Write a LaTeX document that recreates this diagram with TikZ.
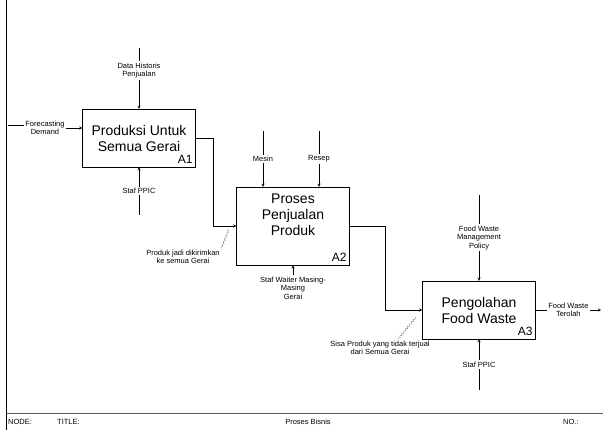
\documentclass[tikz,border=0pt]{standalone}
\usepackage{fontspec}
\setmainfont{Liberation Sans}
\usepackage{tikz}
\usetikzlibrary{arrows, decorations.pathmorphing}
\usetikzlibrary{calc,positioning}

\tikzset{
    proses/.style={draw, minimum width=113pt, minimum height=58pt, align=center,
        font=\fontsize{14}{16}\selectfont},
    lbl/.style={align=center, font=\fontsize{7.5}{8.5}\selectfont, inner sep=1.5pt, fill=white},
    kode/.style={anchor=south east, font=\fontsize{12}{13}\selectfont, inner sep=3pt},
    kaki/.style={font=\fontsize{7.5}{8}\selectfont, inner sep=0pt},
    ulir/.style={decorate, decoration={snake, amplitude=0.8pt, segment length=3pt}, gray},
}

\begin{document}
\begin{tikzpicture}[x=1pt,y=-1pt,>=stealth]
\useasboundingbox (0,0) rectangle (603,430);

    % Kerangka
    \draw (6,0) -- (6,430);
    \draw[thick, gray!70!black] (6,413) -- (603,413);
    \node[kaki, anchor=west] (node) at (8,422) {NODE:};
    \node[kaki, anchor=west] (title) at (57,422) {TITLE:};
    \node[kaki] (judul) at (308,422) {Proses Bisnis};
    \node[kaki, anchor=west] (nomor) at (563,422) {NO.:};

    % Proses
    \node[proses] (a1) at (139,138) {Produksi Untuk\\Semua Gerai};
    \node[kode] at (a1.south east) {A1};
    \node[proses, minimum height=78pt] (a2) at (293,226) {Proses\\Penjualan\\Produk\\[6pt]};
    \node[kode] at (a2.south east) {A2};
    \node[proses] (a3) at (479,310) {Pengolahan\\Food Waste};
    \node[kode] at (a3.south east) {A3};

    % A1
    \coordinate (c1) at (a1.north |- 0,48);
    \draw[->] (c1) -- node[lbl, pos=0.37] (datahist) {Data Historis\\Penjualan} (a1.north);
    \node[lbl, fill=none] (forecast) at (45,128) {Forecasting\\Demand};
    \coordinate (c2) at (8,125);
    \draw (c2) -- (forecast.west |- c2);
    \draw[->] (forecast.east) -- (forecast.east -| a1.west);
    \coordinate (c3) at (a1.south |- 0,215);
    \draw[->] (c3) -- node[lbl, pos=0.5] (stafa) {Staf PPIC} (a1.south);

    % A1 ke A2
    \draw[->] (a1.east) -- ++(17,0) |- (a2.west);
    \node[lbl, fill=none] (jadi) at (183,257) {Produk jadi dikirimkan\\ke semua Gerai};
    \coordinate (j1) at (229,229);
    \draw[ulir] (jadi.north east) -- (j1);

    % A2
    \coordinate (m1) at (263,131);
    \coordinate (r1) at (319,131);
    \draw[->] (m1) -- node[lbl] (mesin) {Mesin} (m1 |- a2.north);
    \draw[->] (r1) -- node[lbl] (resep) {Resep} (r1 |- a2.north);
    \node[lbl, below=10pt of a2.south] (stafb) {Staf Waiter Masing-\\Masing\\Gerai};
    \draw[->] (stafb) -- (a2.south);

    % A2 ke A3
    \draw[->] (a2.east) -- ++(35,0) |- (a3.west);
    \node[lbl, fill=none] (sisa) at (380,348) {Sisa Produk yang tidak terjual\\dari Semua Gerai};
    \coordinate (s1) at (416,317);
    \draw[ulir] ($(sisa.north)+(18,0)$) -- (s1);

    % A3
    \coordinate (p1) at (a3.north |- 0,195);
    \draw[->] (p1) -- node[lbl, pos=0.5] (policy) {Food Waste\\Management\\Policy} (a3.north);
    \coordinate (o1) at (601,310);
    \draw[->] (a3.east) -- node[lbl, pos=0.5] (terolah) {Food Waste\\Terolah} (o1);
    \coordinate (c4) at (a3.south |- 0,390);
    \draw[->] (c4) -- node[lbl, pos=0.5] (stafc) {Staf PPIC} (a3.south);

\end{tikzpicture}
\end{document}
